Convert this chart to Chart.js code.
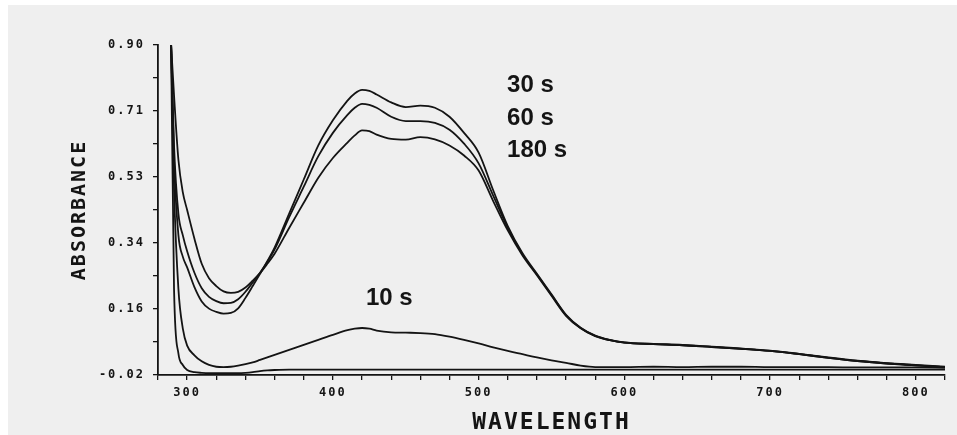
<!DOCTYPE html>
<html>
<head>
<meta charset="utf-8">
<script src="https://cdn.jsdelivr.net/npm/chart.js@4"></script>
<style>
  body { margin: 0; background: #fff; }
  #wrap { position: relative; width: 957px; height: 435px; background: #fff; }
  #paper { position: absolute; left: 8px; top: 5px; right: 0; bottom: 0; background: #efefef; }
  #c { position: absolute; left: 0; top: 0; }
</style>
</head>
<body>
<div id="wrap">
  <div id="paper"></div>
  <canvas id="c" width="957" height="435"></canvas>
</div>
<script>
// wavelength grid (nm) shared by all traces
const wavelength = [289, 291, 294, 297, 300, 305, 310, 315, 320, 325, 330, 335, 340, 345, 350, 355, 360, 370, 380, 390,
  400, 410, 415, 420, 425, 430, 440, 450, 460, 470, 480, 490, 500, 510, 520, 530, 540, 550, 560, 570,
  580, 590, 600, 620, 640, 660, 680, 700, 720, 740, 760, 780, 800, 820];

// absorbance
const abs30s = [0.90, 0.58, 0.37, 0.31, 0.28, 0.225, 0.185, 0.165, 0.156, 0.151, 0.153, 0.166, 0.195, 0.228, 0.262, 0.297, 0.335, 0.43, 0.525, 0.62,
  0.69, 0.745, 0.765, 0.775, 0.772, 0.762, 0.74, 0.727, 0.731, 0.725, 0.70, 0.655, 0.60, 0.495, 0.395, 0.32, 0.262, 0.205, 0.148, 0.112,
  0.09, 0.078, 0.071, 0.067, 0.064, 0.059, 0.054, 0.048, 0.039, 0.029, 0.02, 0.013, 0.008, 0.003];
const abs60s = [0.90, 0.62, 0.43, 0.37, 0.325, 0.265, 0.222, 0.198, 0.186, 0.18, 0.181, 0.191, 0.212, 0.238, 0.265, 0.295, 0.33, 0.42, 0.505, 0.59,
  0.655, 0.705, 0.725, 0.736, 0.733, 0.725, 0.70, 0.688, 0.688, 0.683, 0.664, 0.625, 0.57, 0.48, 0.39, 0.317, 0.26, 0.203, 0.146, 0.111,
  0.089, 0.077, 0.07, 0.066, 0.063, 0.058, 0.053, 0.047, 0.038, 0.028, 0.019, 0.012, 0.007, 0.002];
const abs180s = [0.90, 0.76, 0.58, 0.49, 0.44, 0.36, 0.29, 0.25, 0.228, 0.213, 0.209, 0.212, 0.224, 0.243, 0.264, 0.29, 0.318, 0.39, 0.46, 0.53,
  0.585, 0.628, 0.648, 0.662, 0.66, 0.65, 0.638, 0.636, 0.643, 0.637, 0.62, 0.592, 0.55, 0.465, 0.383, 0.314, 0.258, 0.201, 0.145, 0.11,
  0.088, 0.077, 0.07, 0.066, 0.063, 0.058, 0.053, 0.047, 0.038, 0.028, 0.019, 0.012, 0.007, 0.002];
const abs10s = [0.90, 0.50, 0.22, 0.11, 0.062, 0.035, 0.018, 0.008, 0.003, 0.002, 0.003, 0.006, 0.010, 0.015, 0.022, 0.029, 0.036, 0.05, 0.064, 0.078,
  0.092, 0.105, 0.109, 0.111, 0.109, 0.104, 0.099, 0.098, 0.097, 0.094, 0.087, 0.078, 0.068, 0.057, 0.047, 0.038, 0.029, 0.021, 0.014, 0.006,
  0.002, 0.002, 0.002, 0.003, 0.002, 0.003, 0.003, 0.002, 0.002, 0.002, 0.001, 0.001, 0.001, 0.0];
const abs0s = [0.90, 0.22, 0.04, 0.008, -0.006, -0.012, -0.014, -0.015, -0.015, -0.015, -0.015, -0.015, -0.014, -0.012, -0.009, -0.007, -0.006, -0.005, -0.005, -0.005,
  -0.005, -0.005, -0.005, -0.005, -0.005, -0.005, -0.005, -0.005, -0.005, -0.005, -0.005, -0.005, -0.005, -0.005, -0.005, -0.005, -0.005, -0.005, -0.005, -0.005,
  -0.005, -0.005, -0.005, -0.005, -0.005, -0.005, -0.005, -0.005, -0.005, -0.005, -0.005, -0.005, -0.005, -0.005];

const seriesNames = ['30 s', '60 s', '180 s', '10 s', '0 s'];
const seriesValues = [abs30s, abs60s, abs180s, abs10s, abs0s];

// curve labels, anchored in data units
const labelText = ['30 s', '60 s', '180 s', '10 s'];
const labelAt = [[519.5, 0.788], [519.5, 0.696], [519.5, 0.607], [422.7, 0.195]];

const yMin = -0.02, yMax = 0.90, yStep = 0.092;
const xMin = 280, xMax = 820, xStep = 20;

const ink = '#141414';
const mono = '"DejaVu Sans Mono", monospace';

const spacing = {
  id: 'spacing',
  beforeDraw(chart) { chart.ctx.letterSpacing = '2px'; }
};

const curveLabels = {
  id: 'curveLabels',
  afterDraw(chart) {
    const ctx = chart.ctx, xs = chart.scales.x, ys = chart.scales.y;
    ctx.save();
    ctx.letterSpacing = '0px';
    ctx.fillStyle = ink;
    ctx.font = 'bold 24px "Liberation Sans", Arial, sans-serif';
    ctx.textAlign = 'left';
    ctx.textBaseline = 'middle';
    labelText.forEach((t, i) => {
      ctx.fillText(t, xs.getPixelForValue(labelAt[i][0]), ys.getPixelForValue(labelAt[i][1]));
    });
    ctx.restore();
  }
};

new Chart(document.getElementById('c'), {
  type: 'line',
  data: {
    datasets: seriesValues.map((vals, k) => ({
      label: seriesNames[k],
      data: wavelength.map((w, i) => ({ x: w, y: vals[i] })),
      borderColor: ink,
      borderWidth: 1.8,
      pointRadius: 0,
      fill: false,
      cubicInterpolationMode: 'monotone'
    }))
  },
  options: {
    responsive: false,
    animation: false,
    devicePixelRatio: 1,
    layout: { padding: { left: 0, top: 45, right: 12, bottom: 0 } },
    plugins: { legend: { display: false }, tooltip: { enabled: false } },
    scales: {
      x: {
        type: 'linear',
        min: xMin, max: xMax,
        afterFit(s) { s.height = 60; },
        grid: { display: true, drawOnChartArea: false, tickLength: 5, color: ink, lineWidth: 1.3 },
        border: { display: true, color: ink, width: 1.8 },
        ticks: {
          stepSize: xStep, autoSkip: false, maxRotation: 0, padding: 6, color: ink,
          font: { family: mono, size: 12, weight: 'bold' },
          callback: v => (v % 100 === 0 ? String(v) : '')
        },
        title: {
          display: true, text: 'WAVELENGTH', color: ink,
          font: { family: mono, size: 23, weight: 'bold', lineHeight: 1 },
          padding: { top: 0, bottom: 0 }
        }
      },
      y: {
        min: yMin, max: yMax,
        afterFit(s) { s.width = 158; },
        grid: { display: true, drawOnChartArea: false, tickLength: 5, color: ink, lineWidth: 1.3 },
        border: { display: true, color: ink, width: 1.8 },
        ticks: {
          stepSize: yStep, autoSkip: false, padding: 8, color: ink,
          font: { family: mono, size: 12, weight: 'bold' },
          callback: (v, i) => (i % 2 === 0 ? (Math.floor(v * 100 + 1e-6) / 100).toFixed(2) : '')
        },
        title: {
          display: true, text: 'ABSORBANCE', color: ink,
          font: { family: mono, size: 20, weight: 'bold', lineHeight: 1 },
          padding: { top: 70, bottom: 0 }
        }
      }
    }
  },
  plugins: [spacing, curveLabels]
});
</script>
</body>
</html>
